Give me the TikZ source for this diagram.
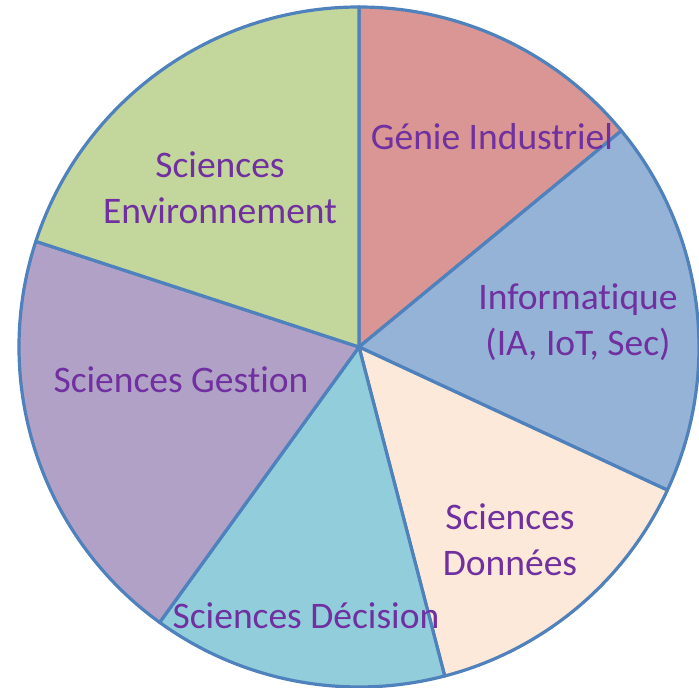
\documentclass[tikz,border=0pt]{standalone}
\usepackage{fontspec}
\setmainfont[Ligatures=CommonOff]{Carlito}
\definecolor{bord}{HTML}{4F81BD}
\definecolor{txt}{HTML}{7030A0}
\definecolor{cGI}{HTML}{D99694}
\definecolor{cInf}{HTML}{95B3D7}
\definecolor{cDon}{HTML}{FDE9D9}
\definecolor{cDec}{HTML}{92CDDC}
\definecolor{cGes}{HTML}{B2A1C7}
\definecolor{cEnv}{HTML}{C3D69B}
\begin{document}
\begin{tikzpicture}[x=1pt,y=1pt,
  slice/.style={draw=bord,line width=3.2pt,line join=round},
  lab/.style={text=txt,inner sep=0pt,align=center,font=\fontsize{37.5}{46}\selectfont}]
\useasboundingbox (0,0) rectangle (699,688);
\coordinate (c) at (359,341);
\def\R{340}
\filldraw[slice,fill=cGI]  (c) -- ++(39.5:\R) arc (39.5:90:\R) -- cycle;
\filldraw[slice,fill=cInf] (c) -- ++(-24.9:\R) arc (-24.9:39.5:\R) -- cycle;
\filldraw[slice,fill=cDon] (c) -- ++(-75.4:\R) arc (-75.4:-24.9:\R) -- cycle;
\filldraw[slice,fill=cDec] (c) -- ++(-125.9:\R) arc (-125.9:-75.4:\R) -- cycle;
\filldraw[slice,fill=cGes] (c) -- ++(161.9:\R) arc (161.9:234.1:\R) -- cycle;
\filldraw[slice,fill=cEnv] (c) -- ++(90:\R) arc (90:161.9:\R) -- cycle;
\node[lab] (gi)  at (492,551) {Génie Industriel};
\node[lab] (inf) at (578,366) {Informatique\\(IA, IoT, Sec)};
\node[lab] (don) at (510,148) {Sciences\\Données};
\node[lab] (dec) at (306,72)  {Sciences Décision};
\node[lab] (ges) at (181,308) {Sciences Gestion};
\node[lab] (env) at (220,500) {Sciences\\Environnement};
\end{tikzpicture}
\end{document}
